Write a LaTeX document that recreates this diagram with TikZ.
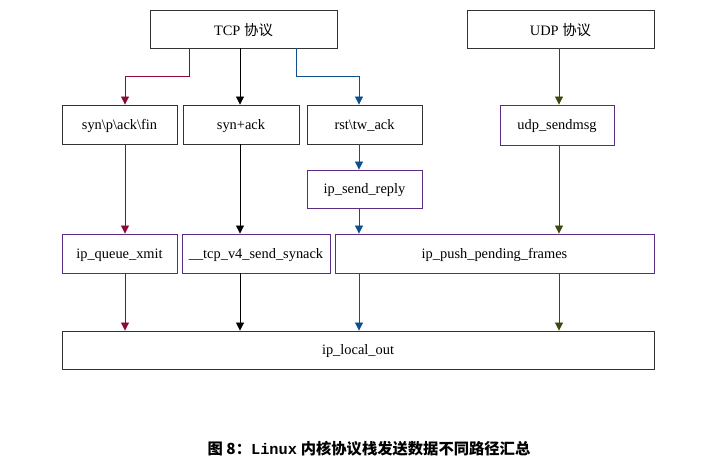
\documentclass[tikz,border=0pt]{standalone}
\usepackage{fontspec}
\setmainfont{Liberation Serif}
\newfontfamily\cjkfont{Noto Sans CJK SC}
\newfontfamily\monofont{Liberation Mono}
\usetikzlibrary{arrows.meta}
\definecolor{crim}{HTML}{8B0A36}
\definecolor{bl}{HTML}{0B4F8F}
\definecolor{ol}{HTML}{3B4A0A}
\definecolor{pur}{HTML}{5B2C83}
\begin{document}
\begin{tikzpicture}[x=1pt,y=-1pt,
  box/.style={draw=black!80, line width=0.9pt, fill=white, inner sep=0pt, text depth=0pt, font=\fontsize{14.4}{16}\selectfont},
  pbox/.style={box, draw=pur},
  arr/.style={-{Triangle[length=8pt,width=8pt]}, line width=0.9pt},
]
\useasboundingbox (0,0) rectangle (716,462);
% boxes: (left,top) to (right,bottom)
\newcommand\bx[6]{\node[#1, minimum width=#4-#2, minimum height=#5-#3] (#6) at ({(#2+#4)/2},{(#3+#5)/2})}
\bx{box}{150}{10}{337}{48}{tcp} {TCP {\cjkfont 协议}};
\bx{box}{467}{10}{654}{48}{udp} {UDP {\cjkfont 协议}};
\bx{box}{62}{105}{177}{144}{synp} {syn\textbackslash p\textbackslash ack\textbackslash fin};
\bx{box}{183}{105}{299}{144}{synack} {syn+ack};
\bx{box}{307}{105}{422}{144}{rst} {rst\textbackslash tw\_ack};
\bx{pbox}{500}{105}{614}{145}{udpsend} {udp\_sendmsg};
\bx{pbox}{307}{170}{422}{208}{reply} {ip\_send\_reply};
\bx{pbox}{62}{234}{177}{273}{queue} {ip\_queue\_xmit};
\bx{pbox}{182}{234}{330}{273}{synackf} {\_\_tcp\_v4\_send\_synack};
\bx{pbox}{335}{234}{654}{273}{push} {ip\_push\_pending\_frames};
\bx{box}{62}{331}{654}{369}{out} {ip\_local\_out};
% connectors
\draw[arr, crim] (tcp.south -| 189,0) -- (189,76) -- (125,76) -- (synp.north -| 125,0);
\draw[arr, black] (tcp.south -| 240,0) -- (synack.north -| 240,0);
\draw[arr, bl] (tcp.south -| 296,0) -- (296,76) -- (359,76) -- (rst.north -| 359,0);
\draw[arr, ol] (udp.south -| 559,0) -- (udpsend.north -| 559,0);
\draw[arr, bl] (rst.south -| 359,0) -- (reply.north -| 359,0);
\draw[arr, bl] (reply.south -| 359,0) -- (push.north -| 359,0);
\draw[arr, ol] (udpsend.south -| 559,0) -- (push.north -| 559,0);
\draw[arr, crim] (synp.south -| 125,0) -- (queue.north -| 125,0);
\draw[arr, black] (synack.south -| 240,0) -- (synackf.north -| 240,0);
\draw[arr, crim] (queue.south -| 125,0) -- (out.north -| 125,0);
\draw[arr, black] (synackf.south -| 240,0) -- (out.north -| 240,0);
\draw[arr, bl] (push.south -| 359,0) -- (out.north -| 359,0);
\draw[arr, ol] (push.south -| 559,0) -- (out.north -| 559,0);
% caption
\node[font=\fontsize{15.3}{17}\selectfont\bfseries, inner sep=0pt] (cap) at (369,449) {{\cjkfont 图 8：}{\monofont\bfseries Linux} {\cjkfont 内核协议栈发送数据不同路径汇总}};
\end{tikzpicture}
\end{document}
